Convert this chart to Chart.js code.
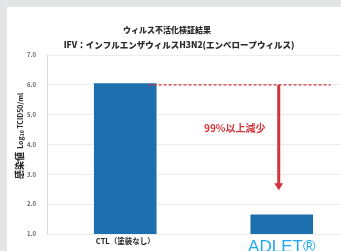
<!DOCTYPE html>
<html>
<head>
    <meta charset="UTF-8">
    <script src="https://cdn.jsdelivr.net/npm/chart.js@4.4.1/dist/chart.umd.min.js"></script>
    <style>
        html, body {
            margin: 0;
            padding: 0;
            background: #e3e4e6;
            overflow: hidden;
        }
        .panel {
            position: absolute;
            left: 7px;
            top: 7px;
            width: 334px;
            height: 244px;
            background: #fff;
            overflow: hidden;
        }
        canvas {
            display: block;
        }
    </style>
</head>
<body>

<div class="panel">
    <canvas id="virusChart" width="355" height="244"></canvas>
</div>

<script>
// data
const categories = ['CTL（塗装なし）', 'ADLET®'];
const titers = [6.05, 1.65];          // Log10 TCID50/ml
const baselineValue = 6.0;            // red dashed reference line
const arrowEndValue = 2.47;           // tip of the red arrow
const reductionLabel = '99%以上減少';
const chartTitle = 'ウィルス不活化検証結果';
const chartSubtitle = 'IFV：インフルエンザウィルスH3N2(エンベロープウィルス)';

const JP = "'Noto Sans CJK JP', 'Noto Sans', sans-serif";
const RED = '#d3343b';

// titles, y axis title and the "99%" annotation
const overlay = {
    id: 'overlay',
    afterDraw(chart) {
        const ctx = chart.ctx;
        const x = chart.scales.x, y = chart.scales.y;
        ctx.save();

        // titles
        ctx.fillStyle = '#2b2b2b';
        ctx.textAlign = 'center';
        ctx.textBaseline = 'middle';
        ctx.font = '900 8px ' + JP;
        ctx.fillText(chartTitle, 160, 23);
        ctx.font = '900 8.5px ' + JP;
        ctx.fillText(chartSubtitle, 172, 38);

        // y axis title (rotated, read bottom to top)
        ctx.save();
        ctx.translate(13, 172);
        ctx.rotate(-Math.PI / 2);
        ctx.textAlign = 'left';
        let cx = 0;
        const part = (txt, font, dy) => {
            ctx.font = font;
            ctx.fillText(txt, cx, dy);
            cx += ctx.measureText(txt).width;
        };
        part('感染値', '900 9px ' + JP, 0);
        part('  Log', 'bold 7px ' + JP, 0);
        part('10', 'bold 5px ' + JP, 2);
        part(' TCID50/ml', 'bold 7px ' + JP, 0);
        ctx.restore();

        // dashed baseline from CTL bar to the right
        const bar0 = chart.getDatasetMeta(0).data[0];
        const yBase = y.getPixelForValue(baselineValue);
        const xEnd = x.getPixelForValue(1) + 49;
        ctx.strokeStyle = RED;
        ctx.lineWidth = 1.4;
        ctx.setLineDash([3, 2]);
        ctx.beginPath();
        ctx.moveTo(bar0.x + bar0.width / 2 - 8, yBase);
        ctx.lineTo(xEnd, yBase);
        ctx.stroke();
        ctx.setLineDash([]);

        // arrow down
        const ax = x.getPixelForValue(1) - 3;
        const yTip = y.getPixelForValue(arrowEndValue);
        ctx.lineWidth = 3;
        ctx.beginPath();
        ctx.moveTo(ax, yBase);
        ctx.lineTo(ax, yTip - 6);
        ctx.stroke();
        ctx.fillStyle = RED;
        ctx.beginPath();
        ctx.moveTo(ax - 4.5, yTip - 7);
        ctx.lineTo(ax + 4.5, yTip - 7);
        ctx.lineTo(ax, yTip);
        ctx.closePath();
        ctx.fill();

        // label
        ctx.textAlign = 'center';
        ctx.font = 'bold 10px ' + JP;
        ctx.fillText(reductionLabel, ax - 44, y.getPixelForValue(4.55));

        ctx.restore();
    }
};

new Chart(document.getElementById('virusChart'), {
    type: 'bar',
    data: {
        labels: categories,
        datasets: [{
            data: titers,
            backgroundColor: '#1d6fae',
            borderWidth: 0,
            barPercentage: 0.4,
            categoryPercentage: 1
        }]
    },
    options: {
        responsive: false,
        animation: false,
        layout: { padding: { top: 48, right: 2, left: 0, bottom: 0 } },
        plugins: {
            legend: { display: false },
            tooltip: { enabled: false },
            title: { display: false }
        },
        scales: {
            x: {
                grid: { display: false },
                border: { display: false },
                afterFit(scale) { scale.height = 17; },
                ticks: {
                    padding: -5,
                    color: (c) => c.index === 1 ? '#1eaaf0' : '#222',
                    font: (c) => c.index === 1
                        ? { family: 'Liberation Sans, Arial, sans-serif', size: 17 }
                        : { family: JP, size: 7.5, weight: 'bold' }
                }
            },
            y: {
                min: 1,
                max: 7,
                afterFit(scale) { scale.width = 40; },
                border: { color: '#dcdcdc' },
                grid: { color: '#ededed', drawTicks: false },
                ticks: {
                    stepSize: 1,
                    padding: 11,
                    color: '#6a6a6a',
                    font: { family: JP, size: 6, weight: 'bold' },
                    callback: (v) => v.toFixed(1)
                }
            }
        }
    },
    plugins: [overlay]
});
</script>

</body>
</html>
